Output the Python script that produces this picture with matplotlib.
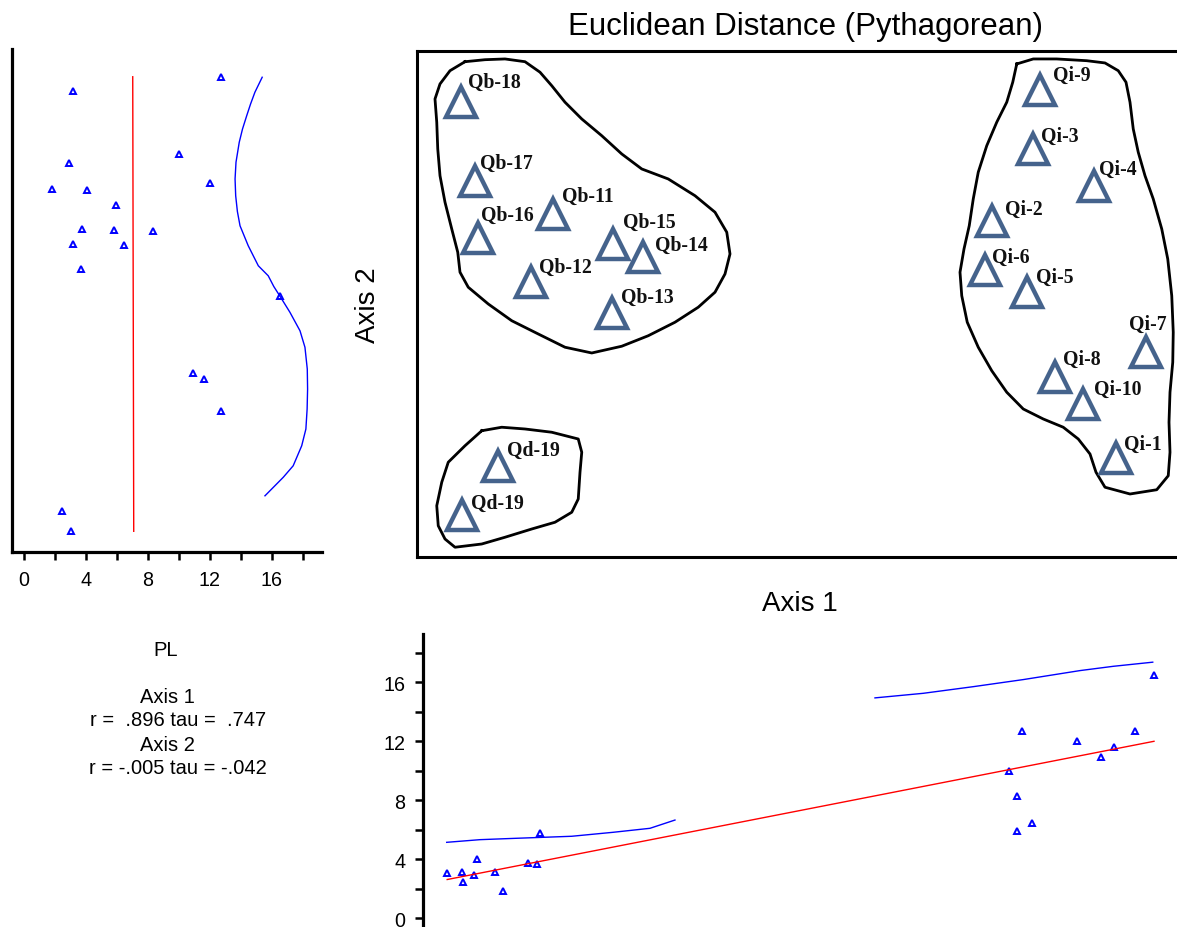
import matplotlib
matplotlib.use("Agg")
import matplotlib.pyplot as plt
import numpy as np

# ---------------- data ----------------
# main ordination panel: site labels and scores (Axis 1, Axis 2)
site_labels = ["Qb-18", "Qb-17", "Qb-16", "Qb-11", "Qb-15", "Qb-14", "Qb-12", "Qb-13",
               "Qd-19", "Qd-19",
               "Qi-9", "Qi-3", "Qi-4", "Qi-2", "Qi-6", "Qi-5", "Qi-7", "Qi-8", "Qi-10", "Qi-1"]
site_ax1 = [-1.357, -1.300, -1.289, -0.987, -0.747, -0.627, -1.077, -0.753,
            -1.209, -1.353,
            0.961, 0.931, 1.176, 0.767, 0.740, 0.909, 1.384, 1.020, 1.133, 1.264]
site_ax2 = [0.789, 0.472, 0.244, 0.341, 0.219, 0.168, 0.067, -0.055,
            -0.667, -0.864,
            0.836, 0.600, 0.453, 0.313, 0.117, 0.027, -0.213, -0.312, -0.419, -0.637]

# group outlines (hand-drawn hulls)
hull_qb_x = [-1.34, -1.26, -1.18, -1.10, -1.04, -0.993, -0.94, -0.873, -0.793, -0.713, -0.633,
             -0.527, -0.42, -0.34, -0.293, -0.28, -0.30, -0.34, -0.407, -0.50, -0.607, -0.713,
             -0.833, -0.94, -1.047, -1.153, -1.247, -1.327, -1.36, -1.369, -1.393, -1.42, -1.44,
             -1.449, -1.453, -1.46, -1.44, -1.40]
hull_qb_y = [0.949, 0.957, 0.96, 0.949, 0.907, 0.853, 0.787, 0.72, 0.653, 0.58, 0.52,
             0.48, 0.413, 0.347, 0.267, 0.18, 0.10, 0.027, -0.033, -0.093, -0.147, -0.189,
             -0.216, -0.193, -0.14, -0.087, -0.02, 0.047, 0.107, 0.187, 0.28, 0.387, 0.493,
             0.60, 0.707, 0.80, 0.86, 0.913]
hull_qd_x = [-1.273, -1.193, -1.10, -0.993, -0.887, -0.873, -0.88, -0.887, -0.913, -0.98,
             -1.073, -1.18, -1.273, -1.38, -1.42, -1.447, -1.453, -1.433, -1.407, -1.34]
hull_qd_y = [-0.527, -0.513, -0.52, -0.533, -0.56, -0.613, -0.693, -0.80, -0.853, -0.893,
             -0.92, -0.953, -0.98, -0.993, -0.96, -0.907, -0.827, -0.733, -0.653, -0.587]
hull_qi_x = [0.867, 0.933, 1.027, 1.147, 1.22, 1.273, 1.304, 1.32, 1.333, 1.353, 1.38, 1.413,
             1.447, 1.471, 1.487, 1.493, 1.491, 1.48, 1.476, 1.48, 1.473, 1.427, 1.32, 1.22,
             1.184, 1.16, 1.113, 1.053, 0.973, 0.893, 0.827, 0.767, 0.713, 0.669, 0.647, 0.64,
             0.656, 0.677, 0.693, 0.713, 0.747, 0.787, 0.827, 0.851]
hull_qi_y = [0.94, 0.96, 0.96, 0.953, 0.944, 0.913, 0.867, 0.787, 0.68, 0.587, 0.493, 0.40,
             0.28, 0.16, 0.013, -0.133, -0.253, -0.373, -0.493, -0.613, -0.707, -0.763, -0.78,
             -0.753, -0.693, -0.62, -0.56, -0.513, -0.48, -0.44, -0.373, -0.287, -0.193, -0.093,
             0.013, 0.107, 0.20, 0.293, 0.40, 0.507, 0.613, 0.707, 0.787, 0.867]

# overlay variable PL against the axis scores
pl_ax1 = [1.416, 1.109, 1.257, 1.204, 0.835, 0.867, 0.929, 0.867, -1.039, 0.887,
          1.341, -1.293, -1.087, -1.051, -1.187, -1.349, -1.411, -1.352, -1.305, -1.220]
pl_ax2 = [0.011, 0.464, -0.320, -0.297, 0.579, 0.273, 0.215, 0.376, 0.275, 0.889,
          -0.447, 0.435, 0.279, 0.120, 0.440, -0.847, -0.929, 0.833, 0.543, 0.221]
pl_vals = [16.5, 12.0, 11.6, 10.9, 10.0, 8.3, 6.45, 5.95, 5.78, 12.7,
           12.7, 4.05, 3.75, 3.65, 1.82, 2.43, 3.04, 3.15, 2.93, 3.15]

# smoothed curves (blue)
smooth2_ax2 = [0.887, 0.827, 0.780, 0.733, 0.680, 0.627, 0.547, 0.480, 0.413, 0.350, 0.293,
               0.213, 0.133, 0.093, 0.050, 0.011, -0.053, -0.127, -0.193, -0.28, -0.36, -0.44,
               -0.52, -0.587, -0.667, -0.713, -0.787]
smooth2_pl = [15.37, 14.9, 14.62, 14.37, 14.10, 13.89, 13.68, 13.62, 13.66, 13.77, 13.94,
              14.47, 15.12, 15.76, 16.12, 16.52, 17.16, 17.81, 18.13, 18.28, 18.30, 18.27,
              18.19, 17.92, 17.37, 16.73, 15.55]
smooth1a_ax1 = [-1.413, -1.28, -1.14, -0.913, -0.747, -0.60, -0.50]
smooth1a_pl = [5.15, 5.33, 5.42, 5.56, 5.83, 6.10, 6.66]
smooth1b_ax1 = [0.30, 0.493, 0.693, 0.893, 1.12, 1.253, 1.411]
smooth1b_pl = [14.94, 15.25, 15.70, 16.18, 16.79, 17.08, 17.36]

pl_ticks = [0, 4, 8, 12, 16]
pl_minor = [2, 6, 10, 14, 18]

stats_lines = ["PL", "Axis 1", "r =  .896 tau =  .747", "Axis 2", "r = -.005 tau = -.042"]

# ---------------- layout (pixels) ----------------
# label offsets from triangle centre (dx, dy of caps centre, in pixels; y down)
label_offsets_px = [(7, -21), (5, -20), (3, -25), (9, -19), (10, -24), (12, -14), (8, -17),
                    (9, -17), (9, -17), (9, -14),
                    (13, -17), (8, -15), (5, -18), (13, -13), (7, -14), (9, -17), (-17, -30),
                    (8, -20), (11, -16), (8, -16)]

W, H, DPI = 1177, 928, 100
fig = plt.figure(figsize=(W / DPI, H / DPI), dpi=DPI)
fig.patch.set_facecolor("white")
SANS = ["Liberation Sans", "DejaVu Sans"]
SERIF = ["Liberation Serif", "DejaVu Serif"]
PT = DPI / 72.0


def px_axes(l, t, r, b):
    return fig.add_axes([l / W, 1 - b / H, (r - l) / W, (b - t) / H])


def ftext(x, y, s, **kw):
    return fig.text(x / W, 1 - y / H, s, **kw)


# ---- main ordination panel ----
ax = px_axes(417, 51.7, 1183, 558)
ax.set_xlim(-1.532, 1.532)
ax.set_ylim(-1.032, 0.993)
ax.set_xticks([])
ax.set_yticks([])
for sp in ax.spines.values():
    sp.set_linewidth(2.2)
    sp.set_color("black")

for hx, hy in [(hull_qb_x, hull_qb_y), (hull_qd_x, hull_qd_y), (hull_qi_x, hull_qi_y)]:
    ax.plot(list(hx) + [hx[0]], list(hy) + [hy[0]], color="black", lw=2.0,
            solid_joinstyle="round")

ax.plot(site_ax1, site_ax2, ls="none", marker="^", ms=22, mfc="none",
        mec="#45638c", mew=3.2, zorder=3)
cap_half = 6.5
for lab, x, y, (dx, dy) in zip(site_labels, site_ax1, site_ax2, label_offsets_px):
    off = (dx / PT, -(dy + cap_half) / PT)
    ax.annotate(lab, (x, y), xytext=off, textcoords="offset points",
                ha="left", va="baseline", fontsize=14.2, fontweight="bold",
                family=SERIF, color="#111111", zorder=4)

ftext(805, 35.5, "Euclidean Distance (Pythagorean)", ha="center", va="baseline",
      fontsize=22.5, family=SANS)
ftext(800, 611, "Axis 1", ha="center", va="baseline", fontsize=20, family=SANS)
fig.text(375 / W, 1 - 305 / H, "Axis 2", rotation=90, rotation_mode="anchor",
         ha="center", va="baseline", fontsize=20, family=SANS)

# ---- left panel: PL vs Axis 2 ----
axl = px_axes(11.7, 50, 322, 553.3)
axl.set_xlim(-0.794, 19.23)
axl.set_ylim(-1.013, 1.0)
for k in ("top", "right"):
    axl.spines[k].set_visible(False)
for k in ("left", "bottom"):
    axl.spines[k].set_linewidth(2.3)
axl.set_yticks([])
axl.set_xticks(pl_ticks)
axl.set_xticks(pl_minor, minor=True)
axl.tick_params(axis="x", which="both", direction="out", length=5.5, width=1.8)
axl.tick_params(axis="x", which="major", pad=7.5, labelsize=14.2)
for t in axl.get_xticklabels():
    t.set_family(SANS)

axl.plot(pl_vals, pl_ax2, ls="none", marker="^", ms=5, mfc="none", mec="blue", mew=1.4)
b2, a2 = np.polyfit(pl_ax2, pl_vals, 1)
yy = np.array([min(pl_ax2), max(pl_ax2)])
axl.plot(b2 * yy + a2, yy, color="red", lw=1.0)
axl.plot(smooth2_pl, smooth2_ax2, color="blue", lw=1.0)

# ---- bottom panel: PL vs Axis 1 ----
axb = px_axes(422.7, 635, 1183, 940)
axb.set_xlim(-1.509, 1.532)
axb.set_ylim(-1.403, 19.27)
for k in ("top", "right", "bottom"):
    axb.spines[k].set_visible(False)
axb.spines["left"].set_linewidth(2.3)
axb.set_xticks([])
axb.set_yticks(pl_ticks)
axb.set_yticks(pl_minor, minor=True)
axb.tick_params(axis="y", which="both", direction="out", length=5.5, width=1.8)
axb.tick_params(axis="y", which="major", pad=7, labelsize=14.2)
for t in axb.get_yticklabels():
    t.set_family(SANS)

axb.plot(pl_ax1, pl_vals, ls="none", marker="^", ms=5, mfc="none", mec="blue", mew=1.4)
b1, a1 = np.polyfit(pl_ax1, pl_vals, 1)
xx = np.array([min(pl_ax1), max(pl_ax1)])
axb.plot(xx, b1 * xx + a1, color="red", lw=1.0)
axb.plot(smooth1a_ax1, smooth1a_pl, color="blue", lw=1.0)
axb.plot(smooth1b_ax1, smooth1b_pl, color="blue", lw=1.0)

# ---- stats text ----
stat_pos = [(166, 656.5), (167, 703), (178, 726), (167, 750.7), (178, 774)]
for s, (x, y) in zip(stats_lines, stat_pos):
    ftext(x, y, s, ha="center", va="baseline", fontsize=14.5, family=SANS)

fig.savefig("out.png", dpi=DPI, facecolor="white")
